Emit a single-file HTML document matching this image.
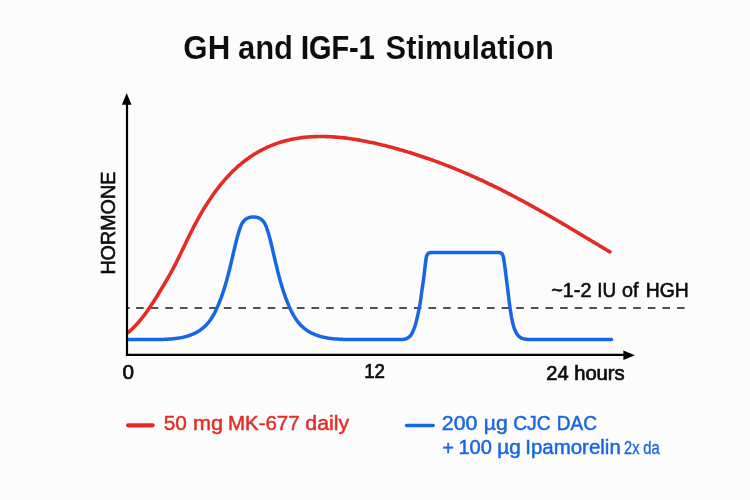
<!DOCTYPE html>
<html><head><meta charset="utf-8"><title>GH and IGF-1 Stimulation</title>
<style>
html,body{margin:0;padding:0;background:#fcfcfc;}
body{width:750px;height:500px;overflow:hidden;}
svg{display:block;}
text{font-family:"Liberation Sans",sans-serif;}
</style></head>
<body>
<svg width="750" height="500" viewBox="0 0 750 500">
<rect width="750" height="500" fill="#fcfcfc"/>
<!-- dashed reference line -->
<path d="M136.1 308H685M128 308H129.7" stroke="#505054" stroke-width="1.9" stroke-dasharray="7.6 7.02" fill="none"/>
<!-- red curve -->
<path d="M128.5 332.3 L130.0 330.9 L131.5 329.5 L133.0 328.1 L134.5 326.6 L136.0 325.0 L137.5 323.4 L139.0 321.7 L140.5 319.9 L142.0 318.0 L143.5 316.1 L145.0 314.1 L146.5 312.1 L148.0 309.9 L149.5 307.7 L151.0 305.5 L152.5 303.2 L154.0 300.9 L155.5 298.5 L157.0 296.2 L158.5 293.7 L160.0 291.3 L161.5 288.8 L163.0 286.3 L164.5 283.8 L166.0 281.3 L167.5 278.7 L169.0 276.0 L170.5 273.3 L172.0 270.6 L173.5 267.8 L175.0 264.9 L176.5 262.0 L178.0 258.9 L179.5 255.9 L181.0 252.8 L182.5 249.7 L184.0 246.6 L185.5 243.4 L187.0 240.3 L188.5 237.3 L190.0 234.2 L191.5 231.2 L193.0 228.3 L194.5 225.4 L196.0 222.6 L197.5 219.8 L199.0 217.1 L200.5 214.4 L202.0 211.9 L203.5 209.3 L205.0 206.9 L206.5 204.5 L208.0 202.2 L209.5 199.9 L211.0 197.7 L212.5 195.5 L214.0 193.4 L215.5 191.3 L217.0 189.3 L218.5 187.4 L220.0 185.5 L221.5 183.7 L223.0 181.9 L224.5 180.1 L226.0 178.4 L227.5 176.8 L229.0 175.2 L230.5 173.6 L232.0 172.1 L233.5 170.6 L235.0 169.2 L236.5 167.8 L238.0 166.4 L239.5 165.1 L241.0 163.9 L242.5 162.6 L244.0 161.5 L245.5 160.3 L247.0 159.2 L248.5 158.1 L250.0 157.0 L251.5 156.0 L253.0 155.1 L254.5 154.1 L256.0 153.2 L257.5 152.3 L259.0 151.5 L260.5 150.6 L262.0 149.8 L263.5 149.1 L265.0 148.3 L266.5 147.6 L268.0 146.9 L269.5 146.3 L271.0 145.7 L272.5 145.1 L274.0 144.5 L275.5 143.9 L277.0 143.4 L278.5 142.9 L280.0 142.4 L281.5 141.9 L283.0 141.5 L284.5 141.1 L286.0 140.7 L287.5 140.3 L289.0 140.0 L290.5 139.6 L292.0 139.3 L293.5 139.0 L295.0 138.7 L296.5 138.5 L298.0 138.2 L299.5 138.0 L301.0 137.8 L302.5 137.6 L304.0 137.4 L305.5 137.3 L307.0 137.1 L308.5 137.0 L310.0 136.9 L311.5 136.8 L313.0 136.7 L314.5 136.6 L316.0 136.6 L317.5 136.5 L319.0 136.5 L320.5 136.5 L322.0 136.5 L323.5 136.5 L325.0 136.5 L326.5 136.6 L328.0 136.6 L329.5 136.7 L331.0 136.8 L332.5 136.9 L334.0 137.0 L335.5 137.1 L337.0 137.2 L338.5 137.3 L340.0 137.5 L341.5 137.6 L343.0 137.8 L344.5 137.9 L346.0 138.1 L347.5 138.3 L349.0 138.5 L350.5 138.7 L352.0 138.9 L353.5 139.2 L355.0 139.4 L356.5 139.6 L358.0 139.9 L359.5 140.1 L361.0 140.4 L362.5 140.7 L364.0 141.0 L365.5 141.3 L367.0 141.5 L368.5 141.9 L370.0 142.2 L371.5 142.5 L373.0 142.8 L374.5 143.1 L376.0 143.5 L377.5 143.8 L379.0 144.2 L380.5 144.5 L382.0 144.9 L383.5 145.2 L385.0 145.6 L386.5 146.0 L388.0 146.4 L389.5 146.8 L391.0 147.2 L392.5 147.6 L394.0 148.0 L395.5 148.4 L397.0 148.8 L398.5 149.2 L400.0 149.7 L401.5 150.1 L403.0 150.5 L404.5 151.0 L406.0 151.4 L407.5 151.9 L409.0 152.3 L410.5 152.8 L412.0 153.3 L413.5 153.7 L415.0 154.2 L416.5 154.7 L418.0 155.2 L419.5 155.7 L421.0 156.2 L422.5 156.7 L424.0 157.2 L425.5 157.7 L427.0 158.2 L428.5 158.7 L430.0 159.2 L431.5 159.8 L433.0 160.3 L434.5 160.9 L436.0 161.4 L437.5 161.9 L439.0 162.5 L440.5 163.1 L442.0 163.6 L443.5 164.2 L445.0 164.8 L446.5 165.4 L448.0 165.9 L449.5 166.5 L451.0 167.1 L452.5 167.7 L454.0 168.3 L455.5 168.9 L457.0 169.6 L458.5 170.2 L460.0 170.8 L461.5 171.4 L463.0 172.1 L464.5 172.7 L466.0 173.3 L467.5 174.0 L469.0 174.6 L470.5 175.3 L472.0 176.0 L473.5 176.6 L475.0 177.3 L476.5 178.0 L478.0 178.7 L479.5 179.4 L481.0 180.0 L482.5 180.7 L484.0 181.4 L485.5 182.1 L487.0 182.9 L488.5 183.6 L490.0 184.3 L491.5 185.0 L493.0 185.7 L494.5 186.5 L496.0 187.2 L497.5 187.9 L499.0 188.7 L500.5 189.4 L502.0 190.2 L503.5 191.0 L505.0 191.7 L506.5 192.5 L508.0 193.3 L509.5 194.0 L511.0 194.8 L512.5 195.6 L514.0 196.4 L515.5 197.2 L517.0 198.0 L518.5 198.8 L520.0 199.6 L521.5 200.4 L523.0 201.2 L524.5 202.0 L526.0 202.8 L527.5 203.6 L529.0 204.4 L530.5 205.3 L532.0 206.1 L533.5 206.9 L535.0 207.8 L536.5 208.6 L538.0 209.4 L539.5 210.3 L541.0 211.1 L542.5 212.0 L544.0 212.8 L545.5 213.7 L547.0 214.5 L548.5 215.4 L550.0 216.3 L551.5 217.1 L553.0 218.0 L554.5 218.9 L556.0 219.7 L557.5 220.6 L559.0 221.5 L560.5 222.4 L562.0 223.3 L563.5 224.1 L565.0 225.0 L566.5 225.9 L568.0 226.8 L569.5 227.7 L571.0 228.6 L572.5 229.5 L574.0 230.4 L575.5 231.3 L577.0 232.2 L578.5 233.1 L580.0 234.0 L581.5 234.9 L583.0 235.8 L584.5 236.7 L586.0 237.6 L587.5 238.5 L589.0 239.4 L590.5 240.3 L592.0 241.2 L593.5 242.1 L595.0 243.0 L596.5 243.9 L598.0 244.8 L599.5 245.7 L601.0 246.6 L602.5 247.5 L604.0 248.4 L605.5 249.3 L607.0 250.2 L608.5 251.1 L609.9 251.9" fill="none" stroke="#e42c27" stroke-width="3.6" stroke-linecap="round" stroke-linejoin="round"/>
<!-- blue curve -->
<path d="M128.5 339.5 L129.0 339.5 L129.5 339.5 L130.0 339.5 L130.5 339.5 L131.0 339.5 L131.5 339.5 L132.0 339.5 L132.5 339.5 L133.0 339.5 L133.5 339.5 L134.0 339.5 L134.5 339.5 L135.0 339.5 L135.5 339.5 L136.0 339.5 L136.5 339.5 L137.0 339.5 L137.5 339.5 L138.0 339.5 L138.5 339.5 L139.0 339.5 L139.5 339.5 L140.0 339.5 L140.5 339.5 L141.0 339.5 L141.5 339.5 L142.0 339.5 L142.5 339.5 L143.0 339.5 L143.5 339.5 L144.0 339.5 L144.5 339.5 L145.0 339.5 L145.5 339.5 L146.0 339.5 L146.5 339.5 L147.0 339.5 L147.5 339.5 L148.0 339.5 L148.5 339.5 L149.0 339.5 L149.5 339.5 L150.0 339.5 L150.5 339.5 L151.0 339.5 L151.5 339.5 L152.0 339.5 L152.5 339.5 L153.0 339.5 L153.5 339.5 L154.0 339.5 L154.5 339.5 L155.0 339.5 L155.5 339.5 L156.0 339.5 L156.5 339.5 L157.0 339.5 L157.5 339.5 L158.0 339.5 L158.5 339.5 L159.0 339.5 L159.5 339.5 L160.0 339.4 L160.5 339.4 L161.0 339.4 L161.5 339.4 L162.0 339.4 L162.5 339.4 L163.0 339.4 L163.5 339.4 L164.0 339.3 L164.5 339.3 L165.0 339.3 L165.5 339.3 L166.0 339.3 L166.5 339.2 L167.0 339.2 L167.5 339.2 L168.0 339.2 L168.5 339.1 L169.0 339.1 L169.5 339.1 L170.0 339.0 L170.5 339.0 L171.0 339.0 L171.5 338.9 L172.0 338.9 L172.5 338.8 L173.0 338.8 L173.5 338.7 L174.0 338.7 L174.5 338.6 L175.0 338.6 L175.5 338.5 L176.0 338.5 L176.5 338.4 L177.0 338.3 L177.5 338.3 L178.0 338.2 L178.5 338.1 L179.0 338.0 L179.5 338.0 L180.0 337.9 L180.5 337.8 L181.0 337.7 L181.5 337.6 L182.0 337.5 L182.5 337.4 L183.0 337.3 L183.5 337.2 L184.0 337.1 L184.5 336.9 L185.0 336.8 L185.5 336.7 L186.0 336.5 L186.5 336.4 L187.0 336.3 L187.5 336.1 L188.0 335.9 L188.5 335.8 L189.0 335.6 L189.5 335.4 L190.0 335.3 L190.5 335.1 L191.0 334.9 L191.5 334.7 L192.0 334.5 L192.5 334.3 L193.0 334.1 L193.5 333.9 L194.0 333.6 L194.5 333.4 L195.0 333.2 L195.5 332.9 L196.0 332.7 L196.5 332.4 L197.0 332.1 L197.5 331.8 L198.0 331.5 L198.5 331.2 L199.0 330.9 L199.5 330.6 L200.0 330.2 L200.5 329.9 L201.0 329.5 L201.5 329.1 L202.0 328.8 L202.5 328.4 L203.0 327.9 L203.5 327.5 L204.0 327.1 L204.5 326.6 L205.0 326.2 L205.5 325.7 L206.0 325.2 L206.5 324.7 L207.0 324.1 L207.5 323.6 L208.0 323.0 L208.5 322.4 L209.0 321.8 L209.5 321.1 L210.0 320.4 L210.5 319.7 L211.0 319.0 L211.5 318.2 L212.0 317.5 L212.5 316.6 L213.0 315.8 L213.5 314.9 L214.0 314.0 L214.5 313.1 L215.0 312.1 L215.5 311.1 L216.0 310.1 L216.5 309.0 L217.0 307.9 L217.5 306.8 L218.0 305.6 L218.5 304.4 L219.0 303.2 L219.5 302.0 L220.0 300.7 L220.5 299.4 L221.0 298.1 L221.5 296.7 L222.0 295.3 L222.5 293.9 L223.0 292.4 L223.5 290.9 L224.0 289.4 L224.5 287.8 L225.0 286.1 L225.5 284.5 L226.0 282.7 L226.5 281.0 L227.0 279.1 L227.5 277.3 L228.0 275.4 L228.5 273.5 L229.0 271.5 L229.5 269.5 L230.0 267.5 L230.5 265.4 L231.0 263.3 L231.5 261.2 L232.0 259.1 L232.5 257.0 L233.0 254.8 L233.5 252.7 L234.0 250.5 L234.5 248.4 L235.0 246.3 L235.5 244.2 L236.0 242.2 L236.5 240.2 L237.0 238.2 L237.5 236.4 L238.0 234.6 L238.5 232.9 L239.0 231.2 L239.5 229.7 L240.0 228.2 L240.5 226.9 L241.0 225.7 L241.5 224.6 L242.0 223.6 L242.5 222.8 L243.0 222.0 L243.5 221.4 L244.0 220.8 L244.5 220.3 L245.0 219.8 L245.5 219.4 L246.0 219.1 L246.5 218.8 L247.0 218.5 L247.5 218.2 L248.0 218.0 L248.5 217.8 L249.0 217.6 L249.5 217.5 L250.0 217.3 L250.5 217.2 L251.0 217.1 L251.5 217.0 L252.0 217.0 L252.5 216.9 L253.0 216.9 L253.5 216.9 L254.0 216.9 L254.5 216.9 L255.0 217.0 L255.5 217.1 L256.0 217.2 L256.5 217.3 L257.0 217.4 L257.5 217.5 L258.0 217.7 L258.5 217.9 L259.0 218.1 L259.5 218.3 L260.0 218.6 L260.5 218.9 L261.0 219.2 L261.5 219.6 L262.0 220.0 L262.5 220.5 L263.0 221.0 L263.5 221.6 L264.0 222.3 L264.5 223.1 L265.0 224.0 L265.5 225.0 L266.0 226.1 L266.5 227.4 L267.0 228.8 L267.5 230.3 L268.0 231.9 L268.5 233.5 L269.0 235.3 L269.5 237.1 L270.0 239.0 L270.5 241.0 L271.0 243.0 L271.5 245.0 L272.0 247.1 L272.5 249.2 L273.0 251.4 L273.5 253.5 L274.0 255.7 L274.5 257.8 L275.0 260.0 L275.5 262.1 L276.0 264.2 L276.5 266.2 L277.0 268.3 L277.5 270.3 L278.0 272.3 L278.5 274.2 L279.0 276.2 L279.5 278.0 L280.0 279.9 L280.5 281.7 L281.0 283.4 L281.5 285.1 L282.0 286.8 L282.5 288.4 L283.0 290.0 L283.5 291.5 L284.0 293.0 L284.5 294.5 L285.0 295.9 L285.5 297.3 L286.0 298.6 L286.5 299.9 L287.0 301.2 L287.5 302.5 L288.0 303.7 L288.5 304.9 L289.0 306.1 L289.5 307.2 L290.0 308.3 L290.5 309.4 L291.0 310.5 L291.5 311.5 L292.0 312.5 L292.5 313.4 L293.0 314.4 L293.5 315.3 L294.0 316.1 L294.5 317.0 L295.0 317.8 L295.5 318.6 L296.0 319.3 L296.5 320.0 L297.0 320.7 L297.5 321.4 L298.0 322.0 L298.5 322.6 L299.0 323.2 L299.5 323.8 L300.0 324.3 L300.5 324.9 L301.0 325.4 L301.5 325.9 L302.0 326.3 L302.5 326.8 L303.0 327.3 L303.5 327.7 L304.0 328.1 L304.5 328.5 L305.0 328.9 L305.5 329.3 L306.0 329.7 L306.5 330.0 L307.0 330.4 L307.5 330.7 L308.0 331.0 L308.5 331.4 L309.0 331.7 L309.5 332.0 L310.0 332.2 L310.5 332.5 L311.0 332.8 L311.5 333.0 L312.0 333.3 L312.5 333.5 L313.0 333.7 L313.5 333.9 L314.0 334.2 L314.5 334.4 L315.0 334.6 L315.5 334.8 L316.0 335.0 L316.5 335.2 L317.0 335.3 L317.5 335.5 L318.0 335.7 L318.5 335.8 L319.0 336.0 L319.5 336.2 L320.0 336.3 L320.5 336.5 L321.0 336.6 L321.5 336.7 L322.0 336.9 L322.5 337.0 L323.0 337.1 L323.5 337.2 L324.0 337.3 L324.5 337.4 L325.0 337.5 L325.5 337.6 L326.0 337.7 L326.5 337.8 L327.0 337.9 L327.5 338.0 L328.0 338.1 L328.5 338.2 L329.0 338.2 L329.5 338.3 L330.0 338.4 L330.5 338.4 L331.0 338.5 L331.5 338.5 L332.0 338.6 L332.5 338.7 L333.0 338.7 L333.5 338.8 L334.0 338.8 L334.5 338.9 L335.0 338.9 L335.5 338.9 L336.0 339.0 L336.5 339.0 L337.0 339.0 L337.5 339.1 L338.0 339.1 L338.5 339.1 L339.0 339.2 L339.5 339.2 L340.0 339.2 L340.5 339.3 L341.0 339.3 L341.5 339.3 L342.0 339.3 L342.5 339.3 L343.0 339.4 L343.5 339.4 L344.0 339.4 L344.5 339.4 L345.0 339.4 L345.5 339.4 L346.0 339.4 L346.5 339.4 L347.0 339.5 L347.5 339.5 L348.0 339.5 L348.5 339.5 L349.0 339.5 L349.5 339.5 L350.0 339.5 L350.5 339.5 L351.0 339.5 L351.5 339.5 L352.0 339.5 L352.5 339.5 L353.0 339.5 L353.5 339.5 L354.0 339.5 L354.5 339.5 L355.0 339.5 L355.5 339.5 L356.0 339.5 L356.5 339.5 L357.0 339.5 L357.5 339.5 L358.0 339.5 L358.5 339.5 L359.0 339.5 L359.5 339.5 L360.0 339.5 L360.5 339.5 L361.0 339.5 L361.5 339.5 L362.0 339.5 L362.5 339.5 L363.0 339.5 L363.5 339.5 L364.0 339.5 L364.5 339.5 L365.0 339.5 L365.5 339.5 L366.0 339.5 L366.5 339.5 L367.0 339.5 L367.5 339.5 L368.0 339.5 L368.5 339.5 L369.0 339.5 L369.5 339.5 L370.0 339.5 L370.5 339.5 L371.0 339.5 L371.5 339.5 L372.0 339.5 L372.5 339.5 L373.0 339.5 L373.5 339.5 L374.0 339.5 L374.5 339.5 L375.0 339.5 L375.5 339.5 L376.0 339.5 L376.5 339.5 L377.0 339.5 L377.5 339.5 L378.0 339.5 L378.5 339.5 L379.0 339.5 L379.5 339.5 L380.0 339.5 L380.5 339.5 L381.0 339.5 L381.5 339.5 L382.0 339.5 L382.5 339.5 L383.0 339.5 L383.5 339.5 L384.0 339.5 L384.5 339.5 L385.0 339.5 L385.5 339.5 L386.0 339.5 L386.5 339.5 L387.0 339.5 L387.5 339.5 L388.0 339.5 L388.5 339.5 L389.0 339.5 L389.5 339.5 L390.0 339.5 L390.5 339.5 L391.0 339.5 L391.5 339.5 L392.0 339.5 L392.5 339.5 L393.0 339.5 L393.5 339.5 L394.0 339.5 L394.5 339.5 L395.0 339.5 L395.5 339.5 L396.0 339.5 L396.5 339.5 L397.0 339.5 L397.5 339.5 L398.0 339.5 L398.5 339.5 L399.0 339.5 L399.5 339.5 L400.0 339.5 L400.5 339.5 L401.0 339.5 L401.5 339.5 L402.0 339.4 L402.5 339.4 L403.0 339.4 L403.5 339.3 L404.0 339.3 L404.5 339.2 L405.0 339.1 L405.5 339.0 L406.0 338.8 L406.5 338.6 L407.0 338.3 L407.5 338.0 L408.0 337.7 L408.5 337.4 L409.0 337.0 L409.5 336.6 L410.0 336.2 L410.5 335.7 L411.0 335.0 L411.5 334.3 L412.0 333.3 L412.5 332.3 L413.0 331.2 L413.5 330.0 L414.0 328.7 L414.5 327.4 L415.0 326.0 L415.5 324.5 L416.0 322.6 L416.5 320.6 L417.0 318.5 L417.5 316.3 L418.0 314.0 L418.5 311.7 L419.0 309.3 L419.5 306.8 L420.0 304.0 L420.5 300.8 L421.0 297.3 L421.5 293.6 L422.0 290.0 L422.5 286.6 L423.0 283.2 L423.5 279.7 L424.0 276.0 L424.5 271.7 L425.0 267.0 L425.5 262.7 L426.0 259.1 L426.5 256.3 L427.0 255.2 L427.5 254.3 L428.0 253.7 L428.5 253.2 L429.0 253.0 L429.5 252.9 L430.0 252.7 L430.5 252.6 L431.0 252.6 L431.5 252.5 L432.0 252.5 L432.5 252.5 L433.0 252.5 L433.5 252.5 L434.0 252.5 L434.5 252.5 L435.0 252.5 L435.5 252.5 L436.0 252.5 L436.5 252.5 L437.0 252.5 L437.5 252.5 L438.0 252.5 L438.5 252.5 L439.0 252.5 L439.5 252.5 L440.0 252.5 L440.5 252.5 L441.0 252.5 L441.5 252.5 L442.0 252.5 L442.5 252.5 L443.0 252.5 L443.5 252.5 L444.0 252.5 L444.5 252.5 L445.0 252.5 L445.5 252.5 L446.0 252.5 L446.5 252.5 L447.0 252.5 L447.5 252.5 L448.0 252.5 L448.5 252.5 L449.0 252.5 L449.5 252.5 L450.0 252.5 L450.5 252.5 L451.0 252.5 L451.5 252.5 L452.0 252.5 L452.5 252.5 L453.0 252.5 L453.5 252.5 L454.0 252.5 L454.5 252.5 L455.0 252.5 L455.5 252.5 L456.0 252.5 L456.5 252.5 L457.0 252.5 L457.5 252.5 L458.0 252.5 L458.5 252.5 L459.0 252.5 L459.5 252.5 L460.0 252.5 L460.5 252.5 L461.0 252.5 L461.5 252.5 L462.0 252.5 L462.5 252.5 L463.0 252.5 L463.5 252.5 L464.0 252.5 L464.5 252.5 L465.0 252.5 L465.5 252.5 L466.0 252.5 L466.5 252.5 L467.0 252.5 L467.5 252.5 L468.0 252.5 L468.5 252.5 L469.0 252.5 L469.5 252.5 L470.0 252.5 L470.5 252.5 L471.0 252.5 L471.5 252.5 L472.0 252.5 L472.5 252.5 L473.0 252.5 L473.5 252.5 L474.0 252.5 L474.5 252.5 L475.0 252.5 L475.5 252.5 L476.0 252.5 L476.5 252.5 L477.0 252.5 L477.5 252.5 L478.0 252.5 L478.5 252.5 L479.0 252.5 L479.5 252.5 L480.0 252.5 L480.5 252.5 L481.0 252.5 L481.5 252.5 L482.0 252.5 L482.5 252.5 L483.0 252.5 L483.5 252.5 L484.0 252.5 L484.5 252.5 L485.0 252.5 L485.5 252.5 L486.0 252.5 L486.5 252.5 L487.0 252.5 L487.5 252.5 L488.0 252.5 L488.5 252.5 L489.0 252.5 L489.5 252.5 L490.0 252.5 L490.5 252.5 L491.0 252.5 L491.5 252.5 L492.0 252.5 L492.5 252.5 L493.0 252.5 L493.5 252.5 L494.0 252.5 L494.5 252.5 L495.0 252.5 L495.5 252.5 L496.0 252.5 L496.5 252.5 L497.0 252.5 L497.5 252.5 L498.0 252.5 L498.5 252.5 L499.0 252.5 L499.5 252.6 L500.0 252.7 L500.5 252.9 L501.0 253.1 L501.5 253.3 L502.0 253.8 L502.5 254.7 L503.0 255.8 L503.5 257.6 L504.0 260.7 L504.5 264.0 L505.0 267.8 L505.5 271.8 L506.0 275.8 L506.5 279.7 L507.0 283.8 L507.5 287.8 L508.0 291.8 L508.5 295.9 L509.0 300.1 L509.5 304.1 L510.0 307.7 L510.5 311.0 L511.0 314.1 L511.5 317.0 L512.0 319.5 L512.5 321.8 L513.0 324.0 L513.5 325.9 L514.0 327.5 L514.5 328.9 L515.0 330.1 L515.5 331.3 L516.0 332.3 L516.5 333.2 L517.0 334.0 L517.5 334.7 L518.0 335.3 L518.5 335.9 L519.0 336.4 L519.5 336.8 L520.0 337.2 L520.5 337.5 L521.0 337.8 L521.5 338.0 L522.0 338.3 L522.5 338.5 L523.0 338.7 L523.5 338.8 L524.0 338.9 L524.5 339.0 L525.0 339.1 L525.5 339.1 L526.0 339.2 L526.5 339.3 L527.0 339.3 L527.5 339.4 L528.0 339.4 L528.5 339.5 L529.0 339.5 L529.5 339.5 L530.0 339.5 L530.5 339.5 L531.0 339.5 L531.5 339.5 L532.0 339.5 L532.5 339.5 L533.0 339.5 L533.5 339.5 L534.0 339.5 L534.5 339.5 L535.0 339.5 L535.5 339.5 L536.0 339.5 L536.5 339.5 L537.0 339.5 L537.5 339.5 L538.0 339.5 L538.5 339.5 L539.0 339.5 L539.5 339.5 L540.0 339.5 L540.5 339.5 L541.0 339.5 L541.5 339.5 L542.0 339.5 L542.5 339.5 L543.0 339.5 L543.5 339.5 L544.0 339.5 L544.5 339.5 L545.0 339.5 L545.5 339.5 L546.0 339.5 L546.5 339.5 L547.0 339.5 L547.5 339.5 L548.0 339.5 L548.5 339.5 L549.0 339.5 L549.5 339.5 L550.0 339.5 L550.5 339.5 L551.0 339.5 L551.5 339.5 L552.0 339.5 L552.5 339.5 L553.0 339.5 L553.5 339.5 L554.0 339.5 L554.5 339.5 L555.0 339.5 L555.5 339.5 L556.0 339.5 L556.5 339.5 L557.0 339.5 L557.5 339.5 L558.0 339.5 L558.5 339.5 L559.0 339.5 L559.5 339.5 L560.0 339.5 L560.5 339.5 L561.0 339.5 L561.5 339.5 L562.0 339.5 L562.5 339.5 L563.0 339.5 L563.5 339.5 L564.0 339.5 L564.5 339.5 L565.0 339.5 L565.5 339.5 L566.0 339.5 L566.5 339.5 L567.0 339.5 L567.5 339.5 L568.0 339.5 L568.5 339.5 L569.0 339.5 L569.5 339.5 L570.0 339.5 L570.5 339.5 L571.0 339.5 L571.5 339.5 L572.0 339.5 L572.5 339.5 L573.0 339.5 L573.5 339.5 L574.0 339.5 L574.5 339.5 L575.0 339.5 L575.5 339.5 L576.0 339.5 L576.5 339.5 L577.0 339.5 L577.5 339.5 L578.0 339.5 L578.5 339.5 L579.0 339.5 L579.5 339.5 L580.0 339.5 L580.5 339.5 L581.0 339.5 L581.5 339.5 L582.0 339.5 L582.5 339.5 L583.0 339.5 L583.5 339.5 L584.0 339.5 L584.5 339.5 L585.0 339.5 L585.5 339.5 L586.0 339.5 L586.5 339.5 L587.0 339.5 L587.5 339.5 L588.0 339.5 L588.5 339.5 L589.0 339.5 L589.5 339.5 L590.0 339.5 L590.5 339.5 L591.0 339.5 L591.5 339.5 L592.0 339.5 L592.5 339.5 L593.0 339.5 L593.5 339.5 L594.0 339.5 L594.5 339.5 L595.0 339.5 L595.5 339.5 L596.0 339.5 L596.5 339.5 L597.0 339.5 L597.5 339.5 L598.0 339.5 L598.5 339.5 L599.0 339.5 L599.5 339.5 L600.0 339.5 L600.5 339.5 L601.0 339.5 L601.5 339.5 L602.0 339.5 L602.5 339.5 L603.0 339.5 L603.5 339.5 L604.0 339.5 L604.5 339.5 L605.0 339.5 L605.5 339.5 L606.0 339.5 L606.5 339.5 L607.0 339.5 L607.5 339.5 L608.0 339.5 L608.5 339.5 L609.0 339.5 L609.5 339.5 L610.0 339.5 L610.5 339.5 L611.0 339.5 L611.5 339.5" fill="none" stroke="#1766e3" stroke-width="3.5" stroke-linecap="round" stroke-linejoin="round"/>
<!-- axes -->
<path d="M127 102V354.95H626" fill="none" stroke="#000" stroke-width="2.2" stroke-linecap="square"/>
<path d="M126.7 93L121.9 104.8H131.5Z" fill="#000"/>
<path d="M634.9 355.2L623.4 350.4V360Z" fill="#000"/>
<!-- legend lines -->
<path d="M128.1 425.3H152.7" stroke="#e42c27" stroke-width="4.2" stroke-linecap="round"/>
<path d="M406.7 425.5H433.1" stroke="#1766e3" stroke-width="3.6" stroke-linecap="round"/>

<text font-weight="bold" fill="#0d0d0d"><tspan x="183.35" y="58.6" font-size="32.4" stroke="#fcfcfc" stroke-width="0.15" textLength="46.91" lengthAdjust="spacingAndGlyphs">GH</tspan> <tspan x="237.94" y="58.6" font-size="32.4" stroke="#fcfcfc" stroke-width="0.15" textLength="55.1" lengthAdjust="spacingAndGlyphs">and</tspan> <tspan x="301.02" y="58.6" font-size="32.4" stroke="#0d0d0d" stroke-width="0.2" textLength="73.68" lengthAdjust="spacingAndGlyphs">IGF-1</tspan> <tspan x="385.54" y="58.6" font-size="32.4" stroke="#fcfcfc" stroke-width="0.15" textLength="168.47" lengthAdjust="spacingAndGlyphs">Stimulation</tspan></text>
<text fill="#0d0d0d"><tspan x="122.58" y="378.5" font-size="20" stroke="#0d0d0d" stroke-width="0.7" textLength="11.5" lengthAdjust="spacingAndGlyphs">0</tspan></text>
<text fill="#0d0d0d"><tspan x="364.23" y="378.1" font-size="20" stroke="#0d0d0d" stroke-width="0.7" textLength="20.77" lengthAdjust="spacingAndGlyphs">12</tspan></text>
<text fill="#0d0d0d"><tspan x="546.33" y="380.3" font-size="19.5" stroke="#0d0d0d" stroke-width="0.7" textLength="22.28" lengthAdjust="spacingAndGlyphs">24</tspan> <tspan x="574.16" y="380.3" font-size="19.5" stroke="#0d0d0d" stroke-width="0.7" textLength="50.53" lengthAdjust="spacingAndGlyphs">hours</tspan></text>
<text fill="#0d0d0d"><tspan x="551.3" y="296.7" font-size="19.9" stroke="#0d0d0d" stroke-width="0.6" textLength="40.12" lengthAdjust="spacingAndGlyphs">~1-2</tspan> <tspan x="597.17" y="296.7" font-size="19.9" stroke="#0d0d0d" stroke-width="0.6" textLength="18.93" lengthAdjust="spacingAndGlyphs">IU</tspan> <tspan x="622.1" y="296.7" font-size="19.9" stroke="#0d0d0d" stroke-width="0.6" textLength="16.49" lengthAdjust="spacingAndGlyphs">of</tspan> <tspan x="645.78" y="296.7" font-size="19.9" stroke="#0d0d0d" stroke-width="0.6" textLength="43.03" lengthAdjust="spacingAndGlyphs">HGH</tspan></text>
<text fill="#e42c27"><tspan x="163.66" y="430.0" font-size="19.3" stroke="#e42c27" stroke-width="0.45" textLength="23.13" lengthAdjust="spacingAndGlyphs">50</tspan> <tspan x="192.97" y="430.0" font-size="19.3" stroke="#e42c27" stroke-width="0.45" textLength="30.21" lengthAdjust="spacingAndGlyphs">mg</tspan> <tspan x="227.97" y="430.0" font-size="19.3" stroke="#e42c27" stroke-width="0.45" textLength="71.64" lengthAdjust="spacingAndGlyphs">MK-677</tspan> <tspan x="305.35" y="430.0" font-size="19.3" stroke="#e42c27" stroke-width="0.45" textLength="43.75" lengthAdjust="spacingAndGlyphs">daily</tspan></text>
<text fill="#1766e3"><tspan x="441.77" y="429.9" font-size="19.3" stroke="#1766e3" stroke-width="0.45" textLength="35.6" lengthAdjust="spacingAndGlyphs">200</tspan> <tspan x="483.7" y="429.9" font-size="19.3" stroke="#1766e3" stroke-width="0.45" textLength="24.0" lengthAdjust="spacingAndGlyphs">µg</tspan> <tspan x="513.15" y="429.9" font-size="19.3" stroke="#1766e3" stroke-width="0.45" textLength="37.66" lengthAdjust="spacingAndGlyphs">CJC</tspan> <tspan x="556.87" y="429.9" font-size="19.3" stroke="#1766e3" stroke-width="0.45" textLength="40.09" lengthAdjust="spacingAndGlyphs">DAC</tspan></text>
<text fill="#1766e3"><tspan x="442.54" y="455.0" font-size="19.3" stroke="#1766e3" stroke-width="0.45" textLength="11.44" lengthAdjust="spacingAndGlyphs">+</tspan> <tspan x="458.4" y="453.6" font-size="19.3" stroke="#1766e3" stroke-width="0.45" textLength="33.54" lengthAdjust="spacingAndGlyphs">100</tspan> <tspan x="497.22" y="453.6" font-size="19.3" stroke="#1766e3" stroke-width="0.45" textLength="23.56" lengthAdjust="spacingAndGlyphs">µg</tspan> <tspan x="525.21" y="453.6" font-size="19.3" stroke="#1766e3" stroke-width="0.45" textLength="95.59" lengthAdjust="spacingAndGlyphs">Ipamorelin</tspan> <tspan x="624.1" y="453.7" font-size="18.4" stroke="#1766e3" stroke-width="0.35" textLength="15.45" lengthAdjust="spacingAndGlyphs">2x</tspan> <tspan x="643.3" y="453.7" font-size="18.4" stroke="#1766e3" stroke-width="0.35" textLength="16.37" lengthAdjust="spacingAndGlyphs">da</tspan></text>
<g transform="translate(115.35,273.4) rotate(-90)"><text x="-1.21" y="0" font-size="20.4" fill="#0d0d0d" stroke="#0d0d0d" stroke-width="0.6" textLength="102.88" lengthAdjust="spacingAndGlyphs">HORMONE</text></g>
</svg>
</body></html>
